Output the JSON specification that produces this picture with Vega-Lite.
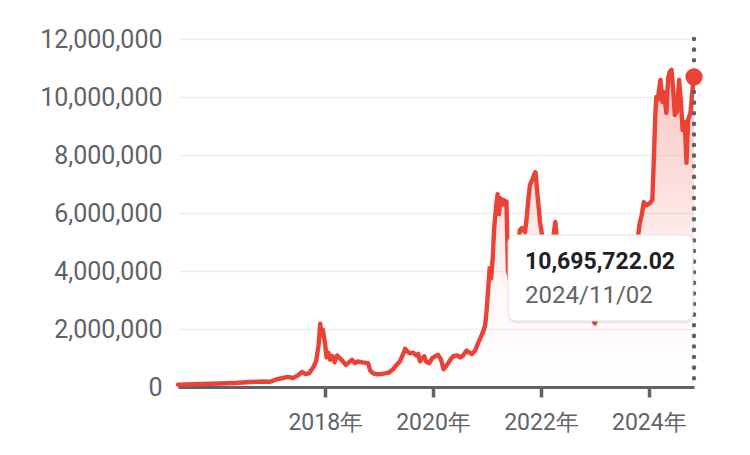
{
  "$schema": "https://vega.github.io/schema/vega-lite/v6.json",
  "width": 516,
  "height": 348,
  "autosize": {"type": "none"},
  "padding": {"left": 178, "top": 39, "right": 56, "bottom": 68},
  "background": "white",
  "config": {"view": {"stroke": null}, "font": "Roboto"},
  "datasets": {
    "btc": [
      {"d": "2015-04-10", "v": 80000},
      {"d": "2015-08-04", "v": 95000},
      {"d": "2015-11-14", "v": 110000},
      {"d": "2016-01-20", "v": 120000},
      {"d": "2016-04-30", "v": 140000},
      {"d": "2016-08-10", "v": 170000},
      {"d": "2016-10-30", "v": 190000},
      {"d": "2016-12-24", "v": 180000},
      {"d": "2017-02-03", "v": 260000},
      {"d": "2017-03-21", "v": 310000},
      {"d": "2017-04-23", "v": 350000},
      {"d": "2017-05-29", "v": 310000},
      {"d": "2017-07-01", "v": 400000},
      {"d": "2017-07-27", "v": 520000},
      {"d": "2017-08-18", "v": 450000},
      {"d": "2017-09-13", "v": 470000},
      {"d": "2017-10-12", "v": 680000},
      {"d": "2017-10-31", "v": 880000},
      {"d": "2017-11-17", "v": 1440000},
      {"d": "2017-11-28", "v": 2180000},
      {"d": "2017-12-08", "v": 1780000},
      {"d": "2017-12-16", "v": 1970000},
      {"d": "2018-01-01", "v": 1440000},
      {"d": "2018-01-10", "v": 1020000},
      {"d": "2018-01-21", "v": 1190000},
      {"d": "2018-02-03", "v": 940000},
      {"d": "2018-02-17", "v": 1070000},
      {"d": "2018-03-06", "v": 850000},
      {"d": "2018-03-22", "v": 1090000},
      {"d": "2018-04-11", "v": 990000},
      {"d": "2018-05-01", "v": 880000},
      {"d": "2018-05-21", "v": 760000},
      {"d": "2018-06-10", "v": 850000},
      {"d": "2018-07-01", "v": 940000},
      {"d": "2018-07-22", "v": 820000},
      {"d": "2018-08-11", "v": 880000},
      {"d": "2018-09-08", "v": 850000},
      {"d": "2018-10-04", "v": 830000},
      {"d": "2018-10-18", "v": 820000},
      {"d": "2018-11-01", "v": 570000},
      {"d": "2018-11-21", "v": 470000},
      {"d": "2018-12-18", "v": 440000},
      {"d": "2019-01-14", "v": 450000},
      {"d": "2019-02-10", "v": 470000},
      {"d": "2019-03-09", "v": 500000},
      {"d": "2019-04-05", "v": 610000},
      {"d": "2019-05-02", "v": 780000},
      {"d": "2019-05-22", "v": 880000},
      {"d": "2019-06-12", "v": 1130000},
      {"d": "2019-06-26", "v": 1320000},
      {"d": "2019-07-10", "v": 1230000},
      {"d": "2019-07-30", "v": 1160000},
      {"d": "2019-08-19", "v": 1190000},
      {"d": "2019-09-08", "v": 1090000},
      {"d": "2019-09-22", "v": 1140000},
      {"d": "2019-10-05", "v": 880000},
      {"d": "2019-10-19", "v": 990000},
      {"d": "2019-11-02", "v": 1060000},
      {"d": "2019-11-15", "v": 880000},
      {"d": "2019-12-05", "v": 820000},
      {"d": "2019-12-26", "v": 990000},
      {"d": "2020-01-15", "v": 1060000},
      {"d": "2020-02-04", "v": 1110000},
      {"d": "2020-02-24", "v": 950000},
      {"d": "2020-03-12", "v": 610000},
      {"d": "2020-03-29", "v": 710000},
      {"d": "2020-04-25", "v": 920000},
      {"d": "2020-05-16", "v": 1060000},
      {"d": "2020-06-12", "v": 1090000},
      {"d": "2020-07-02", "v": 1020000},
      {"d": "2020-07-23", "v": 1090000},
      {"d": "2020-08-15", "v": 1260000},
      {"d": "2020-09-01", "v": 1190000},
      {"d": "2020-09-22", "v": 1140000},
      {"d": "2020-10-12", "v": 1260000},
      {"d": "2020-11-01", "v": 1510000},
      {"d": "2020-11-22", "v": 1750000},
      {"d": "2020-12-09", "v": 1960000},
      {"d": "2020-12-19", "v": 2130000},
      {"d": "2020-12-29", "v": 2650000},
      {"d": "2021-01-08", "v": 3340000},
      {"d": "2021-01-18", "v": 4100000},
      {"d": "2021-01-28", "v": 3750000},
      {"d": "2021-02-08", "v": 4440000},
      {"d": "2021-02-18", "v": 5480000},
      {"d": "2021-03-02", "v": 6170000},
      {"d": "2021-03-13", "v": 6650000},
      {"d": "2021-03-23", "v": 5960000},
      {"d": "2021-04-02", "v": 6510000},
      {"d": "2021-04-12", "v": 6300000},
      {"d": "2021-04-22", "v": 6450000},
      {"d": "2021-05-02", "v": 6270000},
      {"d": "2021-05-12", "v": 6400000},
      {"d": "2021-05-22", "v": 4030000},
      {"d": "2021-06-06", "v": 3680000},
      {"d": "2021-06-19", "v": 3860000},
      {"d": "2021-07-02", "v": 3340000},
      {"d": "2021-07-15", "v": 3270000},
      {"d": "2021-07-29", "v": 4890000},
      {"d": "2021-08-11", "v": 5410000},
      {"d": "2021-08-25", "v": 5480000},
      {"d": "2021-09-15", "v": 5340000},
      {"d": "2021-09-28", "v": 5930000},
      {"d": "2021-10-08", "v": 6510000},
      {"d": "2021-10-18", "v": 6960000},
      {"d": "2021-11-02", "v": 7140000},
      {"d": "2021-11-15", "v": 7310000},
      {"d": "2021-11-25", "v": 7410000},
      {"d": "2021-12-05", "v": 6790000},
      {"d": "2021-12-15", "v": 6270000},
      {"d": "2021-12-25", "v": 5690000},
      {"d": "2022-01-08", "v": 5240000},
      {"d": "2022-01-21", "v": 4550000},
      {"d": "2022-02-11", "v": 4720000},
      {"d": "2022-03-02", "v": 4890000},
      {"d": "2022-03-22", "v": 5060000},
      {"d": "2022-04-08", "v": 5690000},
      {"d": "2022-04-18", "v": 5130000},
      {"d": "2022-05-08", "v": 4720000},
      {"d": "2022-05-28", "v": 4030000},
      {"d": "2022-06-19", "v": 3510000},
      {"d": "2022-07-09", "v": 2990000},
      {"d": "2022-07-29", "v": 3340000},
      {"d": "2022-08-18", "v": 3680000},
      {"d": "2022-09-08", "v": 3060000},
      {"d": "2022-09-28", "v": 2920000},
      {"d": "2022-10-18", "v": 3130000},
      {"d": "2022-11-07", "v": 2990000},
      {"d": "2022-11-27", "v": 2470000},
      {"d": "2022-12-17", "v": 2370000},
      {"d": "2023-01-01", "v": 2190000},
      {"d": "2023-01-21", "v": 2650000},
      {"d": "2023-02-10", "v": 2990000},
      {"d": "2023-03-02", "v": 3160000},
      {"d": "2023-03-22", "v": 3680000},
      {"d": "2023-04-11", "v": 3960000},
      {"d": "2023-05-01", "v": 3820000},
      {"d": "2023-05-21", "v": 3860000},
      {"d": "2023-06-11", "v": 4300000},
      {"d": "2023-07-01", "v": 4200000},
      {"d": "2023-07-21", "v": 4100000},
      {"d": "2023-08-10", "v": 3790000},
      {"d": "2023-08-30", "v": 3860000},
      {"d": "2023-09-20", "v": 4030000},
      {"d": "2023-10-10", "v": 4790000},
      {"d": "2023-10-31", "v": 5640000},
      {"d": "2023-11-14", "v": 5930000},
      {"d": "2023-11-28", "v": 6370000},
      {"d": "2023-12-18", "v": 6270000},
      {"d": "2024-01-08", "v": 6340000},
      {"d": "2024-01-25", "v": 6450000},
      {"d": "2024-02-04", "v": 7830000},
      {"d": "2024-02-14", "v": 9380000},
      {"d": "2024-02-21", "v": 10000000},
      {"d": "2024-03-02", "v": 9900000},
      {"d": "2024-03-12", "v": 10310000},
      {"d": "2024-03-20", "v": 10590000},
      {"d": "2024-04-02", "v": 9830000},
      {"d": "2024-04-12", "v": 10170000},
      {"d": "2024-04-29", "v": 9450000},
      {"d": "2024-05-11", "v": 10660000},
      {"d": "2024-05-22", "v": 10870000},
      {"d": "2024-06-03", "v": 10940000},
      {"d": "2024-06-14", "v": 10240000},
      {"d": "2024-06-25", "v": 9380000},
      {"d": "2024-07-09", "v": 9480000},
      {"d": "2024-07-24", "v": 10590000},
      {"d": "2024-08-06", "v": 9790000},
      {"d": "2024-08-17", "v": 8860000},
      {"d": "2024-09-01", "v": 9130000},
      {"d": "2024-09-12", "v": 7730000},
      {"d": "2024-09-23", "v": 9210000},
      {"d": "2024-10-09", "v": 9450000},
      {"d": "2024-10-21", "v": 10170000},
      {"d": "2024-11-02", "v": 10695722.02}
    ],
    "last": [
      {"d": "2024-11-02", "v": 10695722.02, "price": "10,695,722.02", "date": "2024/11/02"}
    ]
  },
  "layer": [
    {
      "data": {"name": "btc"},
      "mark": {
        "type": "area",
        "fill": {
          "gradient": "linear",
          "x1": 0, "y1": 0, "x2": 0, "y2": 1,
          "stops": [
            {"offset": 0, "color": "rgba(234,67,53,0.30)"},
            {"offset": 0.7, "color": "rgba(234,67,53,0.04)"},
            {"offset": 1, "color": "rgba(234,67,53,0)"}
          ]
        }
      },
      "encoding": {
        "x": {
          "field": "d",
          "type": "temporal",
          "scale": {
            "type": "utc",
            "domain": [
              {"year": 2015, "month": 4, "date": 10, "utc": true},
              {"year": 2024, "month": 11, "date": 2, "utc": true}
            ]
          },
          "axis": {
            "title": null,
            "values": [
              {"year": 2018, "month": 1, "date": 1, "utc": true},
              {"year": 2020, "month": 1, "date": 1, "utc": true},
              {"year": 2022, "month": 1, "date": 1, "utc": true},
              {"year": 2024, "month": 1, "date": 1, "utc": true}
            ],
            "labelExpr": "utcFormat(datum.value, '%Y') + '年'",
            "grid": false,
            "domainColor": "#5f6368",
            "domainWidth": 3,
            "tickColor": "#5f6368",
            "tickWidth": 3.5,
            "tickSize": 10,
            "labelFontSize": 23,
            "labelColor": "#5f6368",
            "labelPadding": 14
          }
        },
        "y": {
          "field": "v",
          "type": "quantitative",
          "scale": {"domain": [0, 12000000], "nice": false},
          "axis": {
            "title": null,
            "values": [0, 2000000, 4000000, 6000000, 8000000, 10000000, 12000000],
            "labelExpr": "format(datum.value, ',')",
            "domain": false,
            "ticks": false,
            "labelFontSize": 25,
            "labelColor": "#5f6368",
            "labelPadding": 16,
            "gridColor": "#eeeeee",
            "gridWidth": 1.5
          }
        }
      }
    },
    {
      "data": {"name": "btc"},
      "mark": {"type": "line", "color": "#ea4335", "strokeWidth": 4.4, "strokeJoin": "round", "strokeCap": "round"},
      "encoding": {
        "x": {"field": "d", "type": "temporal"},
        "y": {"field": "v", "type": "quantitative"}
      }
    },
    {
      "data": {"name": "last"},
      "mark": {"type": "rule", "color": "#5f6368", "strokeWidth": 4.5, "strokeCap": "round", "strokeDash": [0.1, 10.5]},
      "encoding": {
        "x": {"field": "d", "type": "temporal"},
        "y": {"value": 0},
        "y2": {"value": 348}
      }
    },
    {
      "data": {"name": "last"},
      "mark": {"type": "point", "filled": true, "color": "#ea4335", "size": 300, "opacity": 1},
      "encoding": {
        "x": {"field": "d", "type": "temporal"},
        "y": {"field": "v", "type": "quantitative"}
      }
    },
    {
      "data": {"name": "last"},
      "mark": {"type": "rect", "color": "#000000", "opacity": 0.06, "cornerRadius": 9},
      "encoding": {
        "x": {"datum": {"year": 2021, "month": 5, "date": 20, "utc": true}, "type": "temporal"},
        "x2": {"datum": {"year": 2024, "month": 10, "date": 30, "utc": true}},
        "y": {"datum": 5172000, "type": "quantitative"},
        "y2": {"datum": 2180000}
      }
    },
    {
      "data": {"name": "last"},
      "mark": {"type": "rect", "color": "#ffffff", "cornerRadius": 8, "stroke": "#e3e3e3", "strokeWidth": 1},
      "encoding": {
        "x": {"datum": {"year": 2021, "month": 5, "date": 23, "utc": true}, "type": "temporal"},
        "x2": {"datum": {"year": 2024, "month": 10, "date": 26, "utc": true}},
        "y": {"datum": 5241000, "type": "quantitative"},
        "y2": {"datum": 2276000}
      }
    },
    {
      "data": {"name": "last"},
      "mark": {"type": "text", "align": "left", "baseline": "alphabetic", "fontSize": 23, "fontWeight": "bold", "color": "#202124", "dx": 17, "dy": 34},
      "encoding": {
        "x": {"datum": {"year": 2021, "month": 5, "date": 23, "utc": true}, "type": "temporal"},
        "y": {"datum": 5241000, "type": "quantitative"},
        "text": {"field": "price"}
      }
    },
    {
      "data": {"name": "last"},
      "mark": {"type": "text", "align": "left", "baseline": "alphabetic", "fontSize": 24, "color": "#5f6368", "dx": 17, "dy": 68},
      "encoding": {
        "x": {"datum": {"year": 2021, "month": 5, "date": 23, "utc": true}, "type": "temporal"},
        "y": {"datum": 5241000, "type": "quantitative"},
        "text": {"field": "date"}
      }
    }
  ]
}
